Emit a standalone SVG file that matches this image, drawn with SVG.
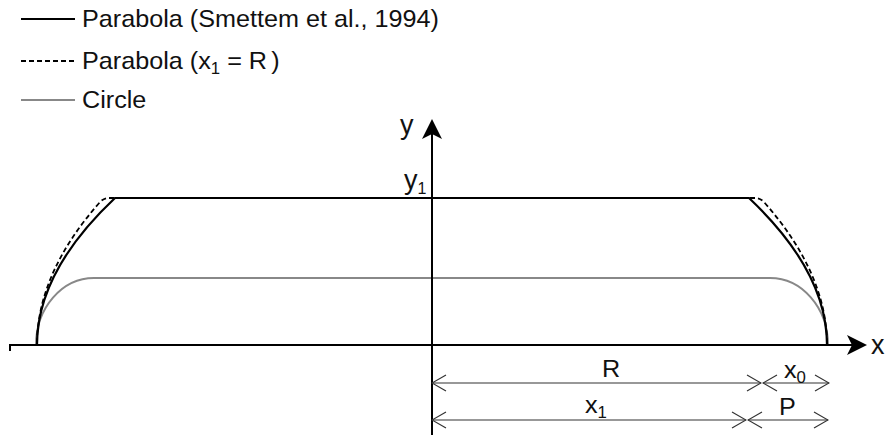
<svg xmlns="http://www.w3.org/2000/svg" width="886" height="436" viewBox="0 0 886 436">
<style>
text{font-family:"Liberation Sans",Arial,sans-serif;fill:#111;}
.lbl{font-size:24px;}
.ax{font-size:27px;}
.sub{font-size:16px;}
.solid{fill:none;stroke:#000;stroke-width:2.2;}
.dash{fill:none;stroke:#000;stroke-width:1.8;stroke-dasharray:5 3;}
.circ{fill:none;stroke:#888;stroke-width:2;}
.axis{fill:none;stroke:#000;stroke-width:2;}
.dim{fill:none;stroke:#333;stroke-width:1.2;marker-start:url(#chev);marker-end:url(#chev);}
</style>
<defs>
<marker id="chev" viewBox="-15 -9 16 18" refX="0" refY="0" markerWidth="16" markerHeight="18" markerUnits="userSpaceOnUse" orient="auto-start-reverse">
<path d="M-14,-8 L0,0 L-14,8" fill="none" stroke="#333" stroke-width="1.2"/>
</marker>
<marker id="axArrow" viewBox="-6 -11 22 22" refX="0" refY="0" markerWidth="22" markerHeight="22" markerUnits="userSpaceOnUse" orient="auto">
<path d="M15,0 L-5,-10 L0,0 L-5,10 Z" fill="#000"/>
</marker>
</defs>

<g id="legend">
<line x1="21" y1="19" x2="75" y2="19" class="solid" stroke-width="2"/>
<text class="lbl" transform="translate(82,27) scale(1.05,1)">Parabola (Smettem et al., 1994)</text>
<line x1="21" y1="61" x2="75" y2="61" class="dash" stroke-width="1.5" stroke-dasharray="5 2.6"/>
<text class="lbl" transform="translate(82,69) scale(1.05,1)">Parabola (x<tspan class="sub" dy="5">1</tspan><tspan dy="-5"> = R</tspan><tspan dx="4">)</tspan></text>
<line x1="21" y1="100" x2="75" y2="100" class="circ"/>
<text class="lbl" transform="translate(82,108) scale(1.05,1)">Circle</text>
</g>

<g id="curves">
<path class="circ" d="M36,345 A58,67 0 0 1 94,278 L770,278 A58,67 0 0 1 828,345"/>
<path class="dash" d="M114,198 L109,198 Q104,198 100,202 Q37,273.5 37,345"/>
<path class="dash" d="M750,198 L755,198 Q760,198 764,202 Q827,273.5 827,345"/>
<path class="solid" d="M37,345 Q37,271.5 115,198 L749,198 Q827,271.5 827,345"/>
</g>

<g id="connectors">
<line class="axis" x1="432" y1="435" x2="432" y2="134" marker-end="url(#axArrow)"/>
<polyline class="axis" points="10,351 10,345 432,345"/>
<line class="axis" x1="432" y1="345" x2="852" y2="345" stroke-width="3" marker-end="url(#axArrow)"/>
<line class="dim" x1="432" y1="383" x2="761" y2="383"/>
<line class="dim" x1="763" y1="383" x2="829" y2="383"/>
<line class="dim" x1="432" y1="420" x2="746" y2="420"/>
<line class="dim" x1="748" y1="420" x2="828" y2="420"/>
</g>

<g id="labels">
<text class="ax" transform="translate(400,134)">y</text>
<text class="ax" transform="translate(871,354)">x</text>
<text class="ax" transform="translate(404,189)">y<tspan class="sub" dy="5">1</tspan></text>
<text class="lbl" transform="translate(602,377) scale(1.05,1)">R</text>
<text class="lbl" transform="translate(784,378) scale(1.05,1)">x<tspan class="sub" dy="5">0</tspan></text>
<text class="lbl" transform="translate(585,413) scale(1.05,1)">x<tspan class="sub" dy="5">1</tspan></text>
<text class="lbl" transform="translate(779,415) scale(1.05,1)">P</text>
</g>
</svg>
